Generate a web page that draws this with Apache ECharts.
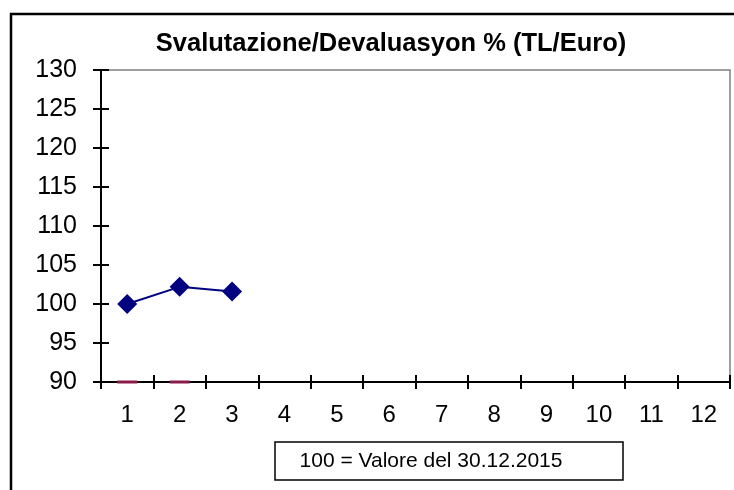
<!DOCTYPE html>
<html>
<head>
<meta charset="utf-8">
<script src="https://cdn.jsdelivr.net/npm/echarts@6/dist/echarts.min.js"></script>
<style>html,body{margin:0;padding:0;background:#fff}#c{width:734px;height:490px}</style>
</head>
<body>
<div id="c"></div>
<script>
var titleText = 'Svalutazione/Devaluasyon % (TL/Euro)';
var legendText = '100 = Valore del 30.12.2015';
var categories = ['1','2','3','4','5','6','7','8','9','10','11','12'];
var seriesTL = [100, 102.2, 101.6, null, null, null, null, null, null, null, null, null];
var seriesBase = [90, 90, null, null, null, null, null, null, null, null, null, null];
var yMin = 90, yMax = 130, yStep = 5;

var chart = echarts.init(document.getElementById('c'), null, {renderer: 'canvas'});
var font = 'Liberation Sans, Arial, sans-serif';
chart.setOption({
  animation: false,
  title: {
    text: titleText, left: 386, top: 26, textAlign: 'center',
    textStyle: {fontFamily: font, fontSize: 25.5, fontWeight: 'bold', color: '#000'}
  },
  grid: {left: 101, right: 4, top: 70, bottom: 108, show: true, borderColor: '#808080', borderWidth: 1.5, backgroundColor: '#fff'},
  xAxis: [{
    type: 'category', data: categories, position: 'bottom', boundaryGap: true,
    axisLine: {lineStyle: {color: '#000', width: 2}},
    axisTick: {show: true, length: 7, alignWithLabel: false, lineStyle: {color: '#000', width: 2}},
    axisLabel: {fontFamily: font, fontSize: 24, color: '#000', margin: 21},
    splitLine: {show: false}
  }, {
    type: 'category', data: categories, position: 'bottom', boundaryGap: true,
    axisLine: {show: false},
    axisTick: {show: true, inside: true, length: 7, alignWithLabel: false, lineStyle: {color: '#000', width: 2}},
    axisLabel: {show: false}, splitLine: {show: false}
  }],
  yAxis: [{
    type: 'value', min: yMin, max: yMax, interval: yStep, position: 'left',
    axisLine: {show: true, lineStyle: {color: '#000', width: 2}},
    axisTick: {show: true, length: 8, lineStyle: {color: '#000', width: 2}},
    axisLabel: {fontFamily: font, fontSize: 25, color: '#000', margin: 24},
    splitLine: {show: false}
  }, {
    type: 'value', min: yMin, max: yMax, interval: yStep, position: 'left', offset: 0,
    axisLine: {show: false},
    axisTick: {show: true, inside: true, length: 8, lineStyle: {color: '#000', width: 2}},
    axisLabel: {show: false}, splitLine: {show: false}
  }],
  series: [{
    type: 'line', data: seriesTL, xAxisIndex: 0, yAxisIndex: 0,
    symbol: 'diamond', symbolSize: 20, showAllSymbol: true,
    lineStyle: {color: '#000080', width: 2},
    itemStyle: {color: '#000080'}, z: 5
  }, {
    type: 'line', data: seriesBase, xAxisIndex: 0, yAxisIndex: 0,
    symbol: 'rect', symbolSize: [20, 3], showAllSymbol: true,
    lineStyle: {width: 0, opacity: 0},
    itemStyle: {color: '#8b1a4a'}, z: 6
  }],
  graphic: [{
    type: 'rect', x: 11, y: 14, z: -1,
    shape: {x: 0, y: 0, width: 800, height: 600},
    style: {fill: 'none', stroke: '#000', lineWidth: 2.5}
  }, {
    type: 'rect', x: 275, y: 442,
    shape: {x: 0, y: 0, width: 348, height: 38},
    style: {fill: '#fff', stroke: '#000', lineWidth: 1.5}
  }, {
    type: 'text', x: 431, y: 461,
    style: {text: legendText, font: '21px ' + font, fill: '#000', textAlign: 'center', textVerticalAlign: 'middle'}
  }]
});
</script>
</body>
</html>
